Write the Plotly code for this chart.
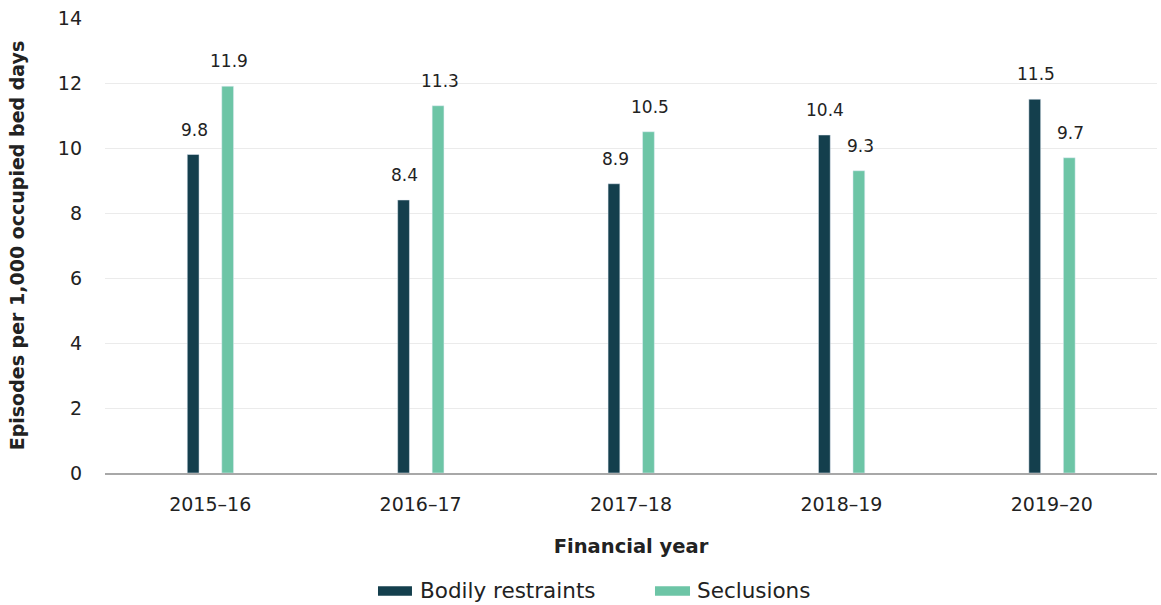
import plotly.graph_objects as go

years = ["2015–16", "2016–17", "2017–18", "2018–19", "2019–20"]
bodily_restraints = [9.8, 8.4, 8.9, 10.4, 11.5]
seclusions = [11.9, 11.3, 10.5, 9.3, 9.7]
series_names = ["Bodily restraints", "Seclusions"]

dark = "#143f4d"
green = "#6dc5a6"
font_family = "DejaVu Sans, sans-serif"
text_color = "#222222"

fig = go.Figure()
fig.add_trace(go.Bar(
    x=years, y=bodily_restraints, name=series_names[0],
    marker_color=dark, width=0.056, offset=-0.109, showlegend=False,
))
fig.add_trace(go.Bar(
    x=years, y=seclusions, name=series_names[1],
    marker_color=green, width=0.056, offset=0.055, showlegend=False,
))

# value labels above each bar
for values, shift in ((bodily_restraints, -16), (seclusions, 19)):
    for yr, v in zip(years, values):
        fig.add_annotation(
            x=yr, y=v, text=f"{v:.1f}", showarrow=False,
            xanchor="center", yanchor="bottom", xshift=shift, yshift=13,
            font=dict(size=17, color=text_color),
        )

# legend drawn as wide swatches below the axis title
legend_items = [
    (series_names[0], dark, 0.2595, 0.2918, 0.2975),
    (series_names[1], green, 0.5228, 0.5561, 0.5608),
]
for name, color, x0, x1, xt in legend_items:
    fig.add_shape(type="rect", xref="paper", yref="paper",
                  x0=x0, x1=x1, y0=-0.270, y1=-0.249,
                  fillcolor=color, line_width=0)
    fig.add_annotation(xref="paper", yref="paper", x=xt, y=-0.259,
                       text=name, showarrow=False, xanchor="left", yanchor="middle",
                       font=dict(size=21.5, color=text_color))

fig.update_layout(
    width=1161, height=605,
    margin=dict(l=105, r=4, t=18, b=132),
    barmode="overlay",
    plot_bgcolor="white", paper_bgcolor="white",
    font=dict(family=font_family, size=19, color=text_color),
    showlegend=False,
    xaxis=dict(
        title=dict(text="<b>Financial year</b>", font=dict(size=19.5), standoff=26),
        showline=True, linecolor="#a8a8a8", linewidth=2,
        tickfont=dict(size=19), ticks="", showgrid=False,
        ticklabelstandoff=13, automargin=False,
    ),
    yaxis=dict(
        title=dict(text="<b>Episodes per 1,000 occupied bed days</b>", font=dict(size=19), standoff=28),
        range=[0, 14], dtick=2, showgrid=True, gridcolor="#ebebeb", gridwidth=1,
        zeroline=False, tickfont=dict(size=19), ticks="",
        ticklabelstandoff=22, automargin=False,
    ),
)

fig.write_html("out.html")
